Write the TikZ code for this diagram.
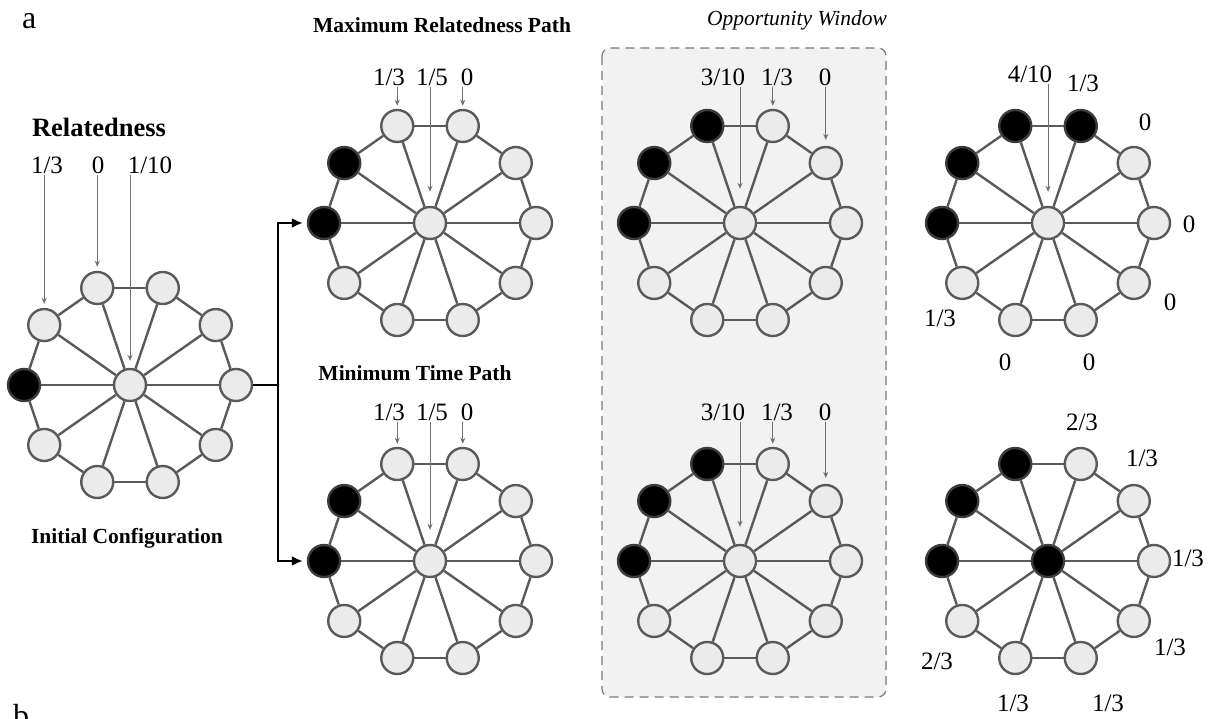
\documentclass[tikz,border=0pt]{standalone}
\usepackage{fontspec}
\setmainfont{Liberation Serif}
\usetikzlibrary{arrows.meta,calc}

\definecolor{edgegray}{HTML}{5A5A5A}
\definecolor{nodefill}{HTML}{EBEBEB}
\definecolor{darkrim}{HTML}{3C3C3C}
\definecolor{panelfill}{HTML}{F2F2F2}
\definecolor{panelline}{HTML}{7A7A7A}
\definecolor{pointgray}{HTML}{707070}

\tikzset{
  vtx/.style={circle, draw=edgegray, fill=nodefill, line width=2.4pt,
              minimum size=32pt, inner sep=0pt},
  darkvtx/.style={vtx, fill=black, draw=darkrim},
  link/.style={draw=edgegray, line width=2.4pt},
  num/.style={font=\fontsize{25}{28}\selectfont, inner sep=1pt},
  heading/.style={font=\fontsize{21.5}{24}\selectfont\bfseries, inner sep=0pt},
  pointer/.style={draw=pointgray, line width=1pt, -{Stealth[length=6pt,width=5pt]}},
  flow/.style={draw=black, line width=2pt},
  panel/.style={draw=panelline, fill=panelfill, dashed, dash pattern=on 9pt off 6pt,
                line width=1.2pt, rounded corners=8pt},
  letter/.style={font=\fontsize{32}{36}\selectfont, inner sep=0pt, anchor=base west}
}

% wheel graph: #1 name, (#2,#3) hub position, #4 dark rim indices, #5 hub style
% rim index 0 sits on the left, indices run clockwise
\newcommand\drawwheel[5]{%
  \node[#5] (#1-c) at (#2,#3) {};
  \foreach \k in {0,...,9}{%
    \gdef\vfill{nodefill}\gdef\vdraw{edgegray}%
    \foreach \d in {#4}{\ifnum\d=\k\relax\gdef\vfill{black}\gdef\vdraw{darkrim}\fi}%
    \node[vtx, fill=\vfill, draw=\vdraw] (#1-\k) at ($(#2,#3)+({180+36*\k}:106 and 102)$) {};
  }
  \foreach \k in {0,...,9}{%
    \pgfmathtruncatemacro\nxt{mod(\k+1,10)}%
    \draw[link] (#1-\k) -- (#1-\nxt);
    \draw[link] (#1-c) -- (#1-\k);
  }
}

\begin{document}
\begin{tikzpicture}[x=1pt, y=-1pt]
\useasboundingbox (0,0) rectangle (1217,719);
\fill[white] (0,0) rectangle (1217,719);

% panel letters (the second one runs off the lower edge)
\node[letter] (la) at (22,29) {a};
\node[letter] (lb) at (13,726) {b};

% opportunity window panel
\draw[panel] (602,48) rectangle (886,697);
\node[font=\fontsize{21.5}{24}\selectfont\itshape, inner sep=0pt] (owt) at (797,20) {Opportunity Window};

% headings
\node[heading, font=\fontsize{26.5}{30}\selectfont\bfseries] (relt) at (99,127) {Relatedness};
\node[heading] (init) at (127,538) {Initial Configuration};
\node[heading] (maxt) at (442,25) {Maximum Relatedness Path};
\node[heading] (mint) at (415,373) {Minimum Time Path};

% graphs
\drawwheel{ini}{130}{385}{0}{vtx}
\drawwheel{mx}{430}{223}{0,1}{vtx}
\drawwheel{mn}{430}{561}{0,1}{vtx}
\drawwheel{owa}{740}{223}{0,1,2}{vtx}
\drawwheel{owb}{740}{561}{0,1,2}{vtx}
\drawwheel{rta}{1048}{223}{0,1,2,3}{vtx}
\drawwheel{rtb}{1048}{561}{0,1,2}{darkvtx}

% branching connector
\coordinate (split) at (278,385);
\draw[flow] (ini-5) -- (split);
\draw[flow, -{Latex[length=11pt,width=10pt]}, shorten >=4pt] (split) |- (mx-0);
\draw[flow, -{Latex[length=11pt,width=10pt]}, shorten >=4pt] (split) |- (mn-0);

% relatedness values, initial configuration
\node[num] (ini-v1) at (47,165) {1/3};
\node[num] (ini-v2) at (98,165) {0};
\node[num] (ini-v3) at (150,165) {1/10};
\draw[pointer] (ini-v1.south -| ini-1.north) -- ([yshift=4pt]ini-1.north);
\draw[pointer] (ini-v2.south -| ini-2.north) -- ([yshift=4pt]ini-2.north);
\draw[pointer] (ini-v3.south -| ini-c.north) -- ([yshift=7pt]ini-c.north);

% maximum relatedness path
\node[num] (mx-v1) at (389,77) {1/3};
\node[num] (mx-v2) at (432,77) {1/5};
\node[num] (mx-v3) at (467,77) {0};
\draw[pointer] (mx-v1.south -| mx-2.north) -- ([yshift=3pt]mx-2.north);
\draw[pointer] (mx-v2.south -| mx-c.north) -- ([yshift=14pt]mx-c.north);
\draw[pointer] (mx-v3.south -| mx-3.north) -- ([yshift=3pt]mx-3.north);

% minimum time path
\node[num] (mn-v1) at (389,412) {1/3};
\node[num] (mn-v2) at (432,412) {1/5};
\node[num] (mn-v3) at (467,412) {0};
\draw[pointer] (mn-v1.south -| mn-2.north) -- ([yshift=3pt]mn-2.north);
\draw[pointer] (mn-v2.south -| mn-c.north) -- ([yshift=14pt]mn-c.north);
\draw[pointer] (mn-v3.south -| mn-3.north) -- ([yshift=3pt]mn-3.north);

% opportunity window, upper
\node[num] (owa-v1) at (723,77) {3/10};
\node[num] (owa-v2) at (777,77) {1/3};
\node[num] (owa-v3) at (825,77) {0};
\draw[pointer] (owa-v1.south -| owa-c.north) -- ([yshift=17pt]owa-c.north);
\draw[pointer] (owa-v2.south -| owa-3.north) -- ([yshift=3pt]owa-3.north);
\draw[pointer] (owa-v3.south -| owa-4.north) -- ([yshift=6pt]owa-4.north);

% opportunity window, lower
\node[num] (owb-v1) at (723,412) {3/10};
\node[num] (owb-v2) at (777,412) {1/3};
\node[num] (owb-v3) at (825,412) {0};
\draw[pointer] (owb-v1.south -| owb-c.north) -- ([yshift=17pt]owb-c.north);
\draw[pointer] (owb-v2.south -| owb-3.north) -- ([yshift=3pt]owb-3.north);
\draw[pointer] (owb-v3.south -| owb-4.north) -- ([yshift=6pt]owb-4.north);

% outcome, upper
\node[num] (rta-v0) at (1030,74) {4/10};
\draw[pointer] (rta-v0.south -| rta-c.north) -- ([yshift=14pt]rta-c.north);
\node[num] (rta-v1) at (1083,83) {1/3};
\node[num] (rta-v2) at (1145,122) {0};
\node[num] (rta-v3) at (1189,224) {0};
\node[num] (rta-v4) at (1170,302) {0};
\node[num] (rta-v5) at (1089,362) {0};
\node[num] (rta-v6) at (1005,362) {0};
\node[num] (rta-v7) at (940,318) {1/3};

% outcome, lower
\node[num] (rtb-v1) at (1082,422) {2/3};
\node[num] (rtb-v2) at (1142,458) {1/3};
\node[num] (rtb-v3) at (1188,558) {1/3};
\node[num] (rtb-v4) at (1170,647) {1/3};
\node[num] (rtb-v5) at (1108,703) {1/3};
\node[num] (rtb-v6) at (1013,703) {1/3};
\node[num] (rtb-v7) at (937,661) {2/3};
\end{tikzpicture}
\end{document}
